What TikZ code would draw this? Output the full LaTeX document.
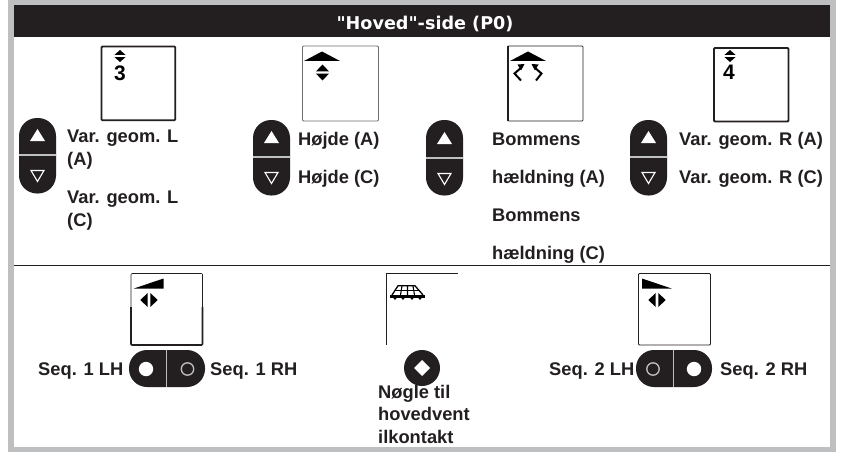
\documentclass[tikz,border=0pt]{standalone}
\usepackage{fontspec}
\setmainfont{Liberation Sans}
\newfontfamily\titlefont{DejaVu Sans}
\definecolor{pad}{HTML}{231F20}
\definecolor{edge}{HTML}{BEBFC1}
\definecolor{ink}{HTML}{231F20}
\tikzset{
  lab/.style={anchor=base west,inner sep=0pt,font=\fontsize{18.3}{20}\selectfont\bfseries,text=ink},
  digit/.style={anchor=base,inner sep=0pt,font=\fontsize{21}{22}\selectfont\bfseries,text=black},
  thinbox/.style={draw=ink,line width=0.8pt,rounded corners=1pt},
  thickbox/.style={draw=ink,line width=1.8pt,rounded corners=1pt},
  divline/.style={draw=edge,line width=1.8pt},
}
\newcommand{\updown}[4]{% centre x, centre y, half width, half height
  \fill[black] (#1-#3,#2-1.1) -- (#1,#2-#4) -- (#1+#3,#2-1.1) -- cycle;
  \fill[black] (#1-#3,#2+1.1) -- (#1,#2+#4) -- (#1+#3,#2+1.1) -- cycle;}
\newcommand{\leftright}[2]{%
  \fill[black] (#1-1.3,#2-7) -- (#1-8.7,#2) -- (#1-1.3,#2+7) -- cycle;
  \fill[black] (#1+1.3,#2-7) -- (#1+8.7,#2) -- (#1+1.3,#2+7) -- cycle;}
\newcommand{\roof}[1]{%
  \fill[black] (#1-18,61) -- (#1,51.5) -- (#1+18,61) -- cycle;}
\newcommand{\vpad}[3]{% left x, top y, divider y
  \fill[pad,rounded corners=18pt] (#1,#2) rectangle (#1+37,#2+75.5);
  \draw[divline] (#1,#3) -- (#1+37,#3);
  \fill[white] (#1+11,#3-14) -- (#1+18.5,#3-26) -- (#1+26,#3-14) -- cycle;
  \draw[white,line width=1.1pt] (#1+12,#3+15.5) -- (#1+25,#3+15.5) -- (#1+18.5,#3+26.5) -- cycle;}
\newcommand{\hpad}[4]{% left x, filled-dot x, ring x, divider x
  \fill[pad,rounded corners=18pt] (#1,350) rectangle (#1+76,387);
  \draw[divline] (#4,350) -- (#4,387);
  \fill[white] (#2,369) circle (7.2);
  \draw[edge,line width=1.3pt] (#3,369) circle (6.2);}
\begin{document}
\begin{tikzpicture}[x=1pt,y=-1pt]
\useasboundingbox (0,0) rectangle (843,452);
\fill[white] (0,0) rectangle (843,452);
\fill[edge] (8,0) rectangle (836,452);
\fill[white] (14,5) rectangle (830,447);
\fill[pad] (14,5) rectangle (830,37);
\node[anchor=base,inner sep=0pt,text=white,font=\titlefont\fontsize{17.6}{19}\selectfont\bfseries] (title) at (425,30) {"Hoved"-side (P0)};
\draw[ink,line width=1.2pt] (14,265.7) -- (830,265.7);
% top boxes
\draw[thickbox] (101.5,46.5) rectangle (175.3,120.3);
\updown{120}{56}{5.5}{6}
\node[digit] (d3) at (120,81) {3};
\draw[draw=ink!65,line width=0.9pt,rounded corners=1pt] (302.5,46) rectangle (378.5,121);
\roof{322}
\updown{322.5}{72.5}{6.5}{8}
\draw[ink,line width=0.7pt,rounded corners=1pt] (508,121) -- (583,121) -- (583,46) -- (508,46);
\draw[ink,line width=1.1pt] (508,46) -- (508,121);
\roof{528}
\draw[black,line width=2pt] (522,67) -- (514.5,73.5) -- (521,80.5);
\draw[black,line width=2pt] (534,67) -- (541.5,73.5) -- (536,80.5);
\fill[black] (524.5,64) -- (517.5,64.5) -- (521,70.5) -- cycle;
\fill[black] (531.5,64) -- (538.5,64.5) -- (535,70.5) -- cycle;
\draw[thickbox] (714,48) rectangle (788.5,121.5);
\updown{730}{56}{5.5}{6}
\node[digit] (d4) at (729,80) {4};
% vertical pads
\vpad{19}{118}{155}
\vpad{253}{120}{157}
\vpad{426}{120}{158}
\vpad{630}{120}{157}
% top labels
\node[lab] (a1) at (67,142) {Var. geom. L};
\node[lab] (a2) at (67,165) {(A)};
\node[lab] (a3) at (67,203) {Var. geom. L};
\node[lab] (a4) at (67,226) {(C)};
\node[lab] (b1) at (298,145) {Højde (A)};
\node[lab] (b2) at (298,183) {Højde (C)};
\node[lab] (c1) at (492,145) {Bommens};
\node[lab] (c2) at (492,183) {hældning (A)};
\node[lab] (c3) at (492,221) {Bommens};
\node[lab] (c4) at (492,259) {hældning (C)};
\node[lab] (e1) at (679,145) {Var. geom. R (A)};
\node[lab] (e2) at (679,183) {Var. geom. R (C)};
% bottom boxes
\draw[ink,line width=0.7pt,rounded corners=1pt] (131,307) -- (131,273.5) -- (202.5,273.5) -- (202.5,307);
\draw[ink,line width=1.6pt,rounded corners=1pt] (131,307) -- (131,345) -- (202.5,345) -- (202.5,307);
\fill[black] (134,288.5) -- (163.5,278.5) -- (163.5,288.5) -- cycle;
\leftright{149}{300}
\draw[ink,line width=0.7pt] (386,273.5) -- (458,273.5);
\draw[ink,line width=1.6pt,rounded corners=1pt] (386.5,273.5) -- (386.5,345);
\fill[black] (390,294.5) rectangle (425,297.5);
\draw[black,line width=1.3pt] (392,295) -- (398,285.8) -- (415,285.8) -- (423,295);
\draw[black,line width=1pt] (395,290.3) -- (420,290.3);
\draw[black,line width=1.1pt] (402,286) -- (400.5,295) (407.5,286) -- (407.5,295) (413,286) -- (414.5,295);
\foreach \q in {395,403,412,420}{\fill[black] (\q-2.5,297) -- (\q+2.5,297) -- (\q,300) -- cycle;}
\draw[thinbox] (638.5,273.5) rectangle (710.5,345);
\fill[black] (642,278.5) -- (671.5,288.5) -- (642,288.5) -- cycle;
\leftright{657}{300}
% horizontal pads
\hpad{129}{146}{187.5}{166.5}
\hpad{636}{694}{653}{673.5}
\fill[pad] (422,368) circle (18);
\fill[white] (422,360) -- (430,368) -- (422,376) -- (414,368) -- cycle;
% bottom labels
\node[lab] (s1) at (38,375) {Seq. 1 LH};
\node[lab] (s2) at (210,375) {Seq. 1 RH};
\node[lab] (s3) at (549,375) {Seq. 2 LH};
\node[lab] (s4) at (720,375) {Seq. 2 RH};
\node[lab] (k1) at (378,398) {Nøgle til};
\node[lab] (k2) at (378,420.5) {hovedvent};
\node[lab] (k3) at (378,443) {ilkontakt};
\end{tikzpicture}
\end{document}
